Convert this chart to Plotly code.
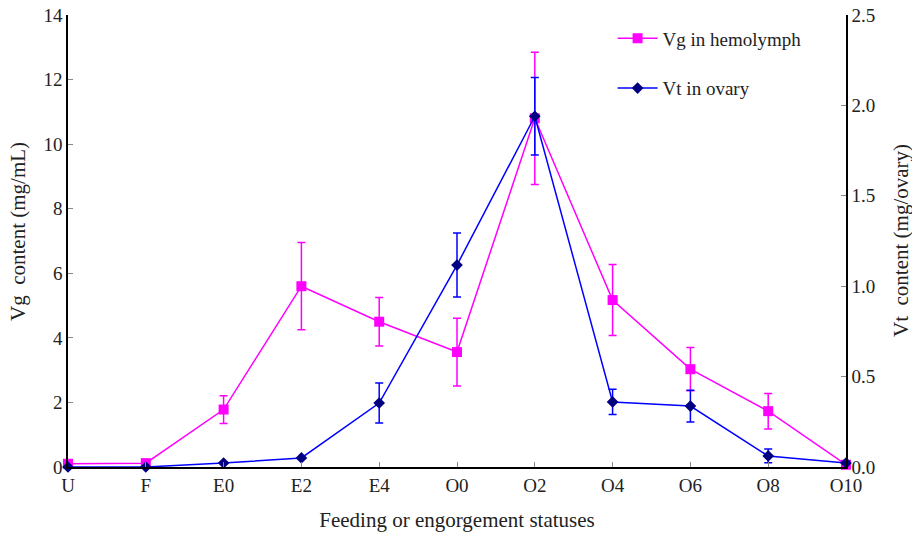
import plotly.graph_objects as go

stages = ["U", "F", "E0", "E2", "E4", "O0", "O2", "O4", "O6", "O8", "O10"]
vg_values = [0.10, 0.12, 1.78, 5.60, 4.50, 3.56, 10.80, 5.17, 3.03, 1.73, 0.07]
vg_errors = [0.0, 0.0, 0.43, 1.35, 0.75, 1.05, 2.05, 1.10, 0.67, 0.55, 0.0]
vt_values = [0.0, 0.0, 0.022, 0.05, 0.354, 1.117, 1.94, 0.36, 0.337, 0.061, 0.022]
vt_errors = [0.0, 0.0, 0.0, 0.0, 0.11, 0.177, 0.215, 0.07, 0.088, 0.038, 0.0]

font_family = "Liberation Serif, Times New Roman, serif"

fig = go.Figure()
fig.add_trace(go.Scatter(
    x=stages, y=vg_values, name="Vg in hemolymph", mode="lines+markers",
    line=dict(color="#FF00FF", width=1.5),
    marker=dict(symbol="square", size=10, color="#FF00FF"),
    error_y=dict(type="data", array=vg_errors, visible=True, color="#FF00FF",
                 thickness=1.5, width=4),
    cliponaxis=False, legendgroup="a",
))
fig.add_trace(go.Scatter(
    x=stages, y=vt_values, name="Vt in ovary", mode="lines+markers", yaxis="y2",
    line=dict(color="#0000FF", width=1.5),
    marker=dict(symbol="diamond", size=9, color="#000080"),
    error_y=dict(type="data", array=vt_errors, visible=True, color="#0000FF",
                 thickness=1.5, width=4),
    cliponaxis=False, legendgroup="b",
))

tickfont = dict(family=font_family, size=19, color="#222")
fig.update_layout(
    width=912, height=533,
    margin=dict(l=68, r=66, t=15, b=66),
    paper_bgcolor="white", plot_bgcolor="white",
    font=dict(family=font_family, size=19, color="#222"),
    showlegend=True,
    legend=dict(x=0.70, y=0.99, xanchor="left", yanchor="top",
                font=dict(family=font_family, size=19, color="#222"),
                tracegroupgap=22, traceorder="grouped",
                bgcolor="rgba(0,0,0,0)", itemwidth=40),
    xaxis=dict(
        type="category", categoryorder="array", categoryarray=stages,
        range=[0, 10], showline=True, linecolor="black", linewidth=1.5,
        ticks="inside", ticklen=5, tickcolor="#888", showgrid=False, zeroline=False,
        tickfont=tickfont, automargin=False,
        title=dict(text="Feeding or engorgement statuses", font=dict(size=21), standoff=18),
    ),
    yaxis=dict(
        range=[0, 14], dtick=2, showline=True, linecolor="black", linewidth=1.5,
        ticks="inside", ticklen=5, tickcolor="#888", showgrid=False, zeroline=False,
        tickfont=tickfont, automargin=False,
    ),
    yaxis2=dict(
        range=[0, 2.5], dtick=0.5, tickformat=".1f", overlaying="y", side="right",
        showline=True, linecolor="black", linewidth=1.5,
        ticks="inside", ticklen=5, tickcolor="#888", showgrid=False, zeroline=False,
        tickfont=tickfont, automargin=False,
    ),
    annotations=[
        dict(text="Vg  content (mg/mL)", xref="paper", yref="paper",
             x=-0.0, y=0.5, xshift=-50, yshift=9, textangle=-90, showarrow=False,
             xanchor="center", yanchor="middle", font=dict(size=21, family=font_family, color="#222")),
        dict(text="Vt  content (mg/ovary)", xref="paper", yref="paper",
             x=1.0, y=0.5, xshift=55, textangle=-90, showarrow=False,
             xanchor="center", yanchor="middle", font=dict(size=21, family=font_family, color="#222")),
    ],
)

fig.write_html("out.html", config={"displayModeBar": False},
               post_script="document.body.style.margin='0';document.body.style.padding='0';")
